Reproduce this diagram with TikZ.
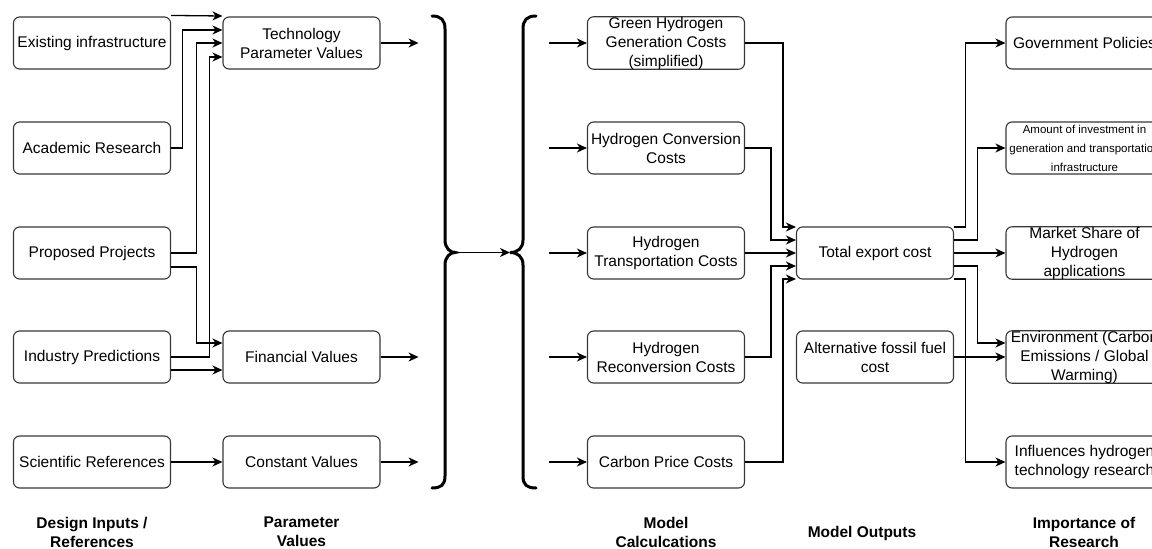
\documentclass[tikz,border=0pt]{standalone}
\usepackage{fontspec}
\setmainfont{Liberation Sans}
\usetikzlibrary{arrows.meta}
\definecolor{figE}{RGB}{55,55,55}

\begin{document}
\begin{tikzpicture}[x=1pt,y=-1pt,>={Stealth[length=10pt,width=9pt,inset=3pt]},
  box/.style={draw=figE,line width=1.1pt,rounded corners=6pt,minimum width=157pt,minimum height=52pt,
    inner sep=0pt,align=center,font=\fontsize{15.5}{19}\selectfont},
  collabel/.style={align=center,font=\fontsize{15.5}{19}\selectfont\bfseries},
  link/.style={->,line width=1.3pt},
  brace/.style={line width=3pt,line cap=round}]
\useasboundingbox (0,0) rectangle (1152,549);
\clip (0,0) rectangle (1152,549);
% design inputs
\node[box] (exist) at (92,43) {Existing infrastructure};
\node[box] (acad) at (92,148) {Academic Research};
\node[box] (prop) at (92,253) {Proposed Projects};
\node[box] (indus) at (92,357) {Industry Predictions};
\node[box] (sci) at (92,462) {Scientific References};
% parameter values
\node[box] (tech) at (301.5,43) {Technology\\Parameter Values};
\node[box] (fin) at (301.5,357) {Financial Values};
\node[box] (const) at (301.5,462) {Constant Values};
% model calculations
\node[box] (gen) at (666,43) {Green Hydrogen\\Generation Costs\\(simplified)};
\node[box] (conv) at (666,148) {Hydrogen Conversion\\Costs};
\node[box] (trans) at (666,253) {Hydrogen\\Transportation Costs};
\node[box] (recon) at (666,357) {Hydrogen\\Reconversion Costs};
\node[box] (carb) at (666,462) {Carbon Price Costs};
% outputs
\node[box] (total) at (875,253) {Total export cost};
\node[box] (alt) at (875,357) {Alternative fossil fuel\\cost};
% importance
\node[box] (gov) at (1084.5,43) {Government Policies};
\node[box,font=\fontsize{11.5}{19}\selectfont] (inv) at (1084.5,148) {Amount of investment in\\generation and transportation\\infrastructure};
\node[box] (mkt) at (1084.5,253) {Market Share of\\Hydrogen\\applications};
\node[box] (env) at (1084.5,357) {Environment (Carbon\\Emissions / Global\\Warming)};
\node[box] (infl) at (1084.5,462) {Influences hydrogen\\technology research};
% column labels
\node[collabel] (l1) at (92,532) {Design Inputs /\\References};
\node[collabel] (l2) at (301.5,532) {Parameter\\Values};
\node[collabel] (l3) at (666,532) {Model\\Calculcations};
\node[collabel] (l4) at (862,533) {Model Outputs};
\node[collabel] (l5) at (1084,532) {Importance of\\Research};

% inputs -> parameters
\draw[link] ([yshift=1pt]exist.north east) -- ([yshift=27pt]tech.west);
\draw[link] (acad.east) -| ([xshift=-40pt,yshift=13pt]tech.west) -- ([yshift=13pt]tech.west);
\draw[link] (prop.east) -| ([xshift=-26pt]tech.west) -- (tech.west);
\draw[link] (indus.east) -| ([xshift=-13pt,yshift=-14pt]tech.west) -- ([yshift=-14pt]tech.west);
\draw[link] ([yshift=-14pt]prop.east) -| ([xshift=-26pt,yshift=14pt]fin.west) -- ([yshift=14pt]fin.west);
\draw[link] ([yshift=-13pt]indus.east) -- ([yshift=-13pt]fin.west);
\draw[link] (sci) -- (const);
\foreach \n in {tech,fin,const} {
  \coordinate (\n-out) at ([xshift=38pt]\n.east);
  \draw[link] (\n.east) -- (\n-out);
}

% braces
\coordinate (lbtip) at (455,252.5);
\coordinate (rbtip) at (510,252.5);
\draw[brace] (432,16) .. controls (441,16) and (445,20) .. (445,29) -- (445,240)
  .. controls (445,248) and (450,252.5) .. (lbtip) .. controls (450,252.5) and (445,257) .. (445,265)
  -- (445,476) .. controls (445,485) and (441,488) .. (432,488);
\draw[brace] (536,16) .. controls (527,16) and (523,20) .. (523,29) -- (523,240)
  .. controls (523,248) and (518,252.5) .. (rbtip) .. controls (518,252.5) and (523,257) .. (523,265)
  -- (523,476) .. controls (523,485) and (527,488) .. (536,488);
\draw[link] (lbtip) -- (rbtip);

% calculations -> total export cost
\foreach \n in {gen,conv,trans,recon,carb} {
  \coordinate (\n-in) at ([xshift=-38pt]\n.west);
  \draw[link] (\n-in) -- (\n.west);
}
\draw[link] (gen.east) -| ([xshift=-13pt,yshift=26pt]total.west) -- ([yshift=26pt]total.west);
\draw[link] (conv.east) -| ([xshift=-25pt,yshift=13pt]total.west) -- ([yshift=13pt]total.west);
\draw[link] (trans) -- (total);
\draw[link] (recon.east) -| ([xshift=-25pt,yshift=-13pt]total.west) -- ([yshift=-13pt]total.west);
\draw[link] (carb.east) -| ([xshift=-13pt,yshift=-26pt]total.west) -- ([yshift=-26pt]total.west);

% outputs -> importance
\draw[link] ([yshift=26pt]total.east) -| ([xshift=-40pt]gov.west) -- (gov.west);
\draw[link] ([yshift=13pt]total.east) -| ([xshift=-28pt]inv.west) -- (inv.west);
\draw[link] (total) -- (mkt);
\draw[link] ([yshift=-13pt]total.east) -| ([xshift=-28pt,yshift=14pt]env.west) -- ([yshift=14pt]env.west);
\draw[link] ([yshift=-26pt]total.east) -| ([xshift=-40pt]infl.west) -- (infl.west);
\draw[link] (alt) -- (env);
\end{tikzpicture}
\end{document}
